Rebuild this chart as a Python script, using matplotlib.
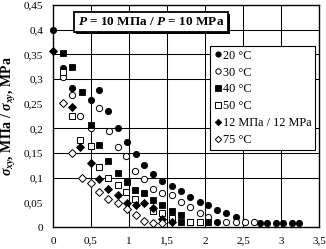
import matplotlib
matplotlib.use("Agg")
import matplotlib.pyplot as plt
from matplotlib.ticker import FuncFormatter
import matplotlib.patheffects as pe

plt.rcParams['font.family'] = ['Liberation Serif', 'DejaVu Serif']
plt.rcParams['mathtext.fontset'] = 'custom'
plt.rcParams['mathtext.rm'] = 'Liberation Serif:bold'
plt.rcParams['mathtext.it'] = 'Liberation Serif:italic:bold'
plt.rcParams['mathtext.bf'] = 'Liberation Serif:bold'

# ---- data ----
x20 = [0, 0.13, 0.245, 0.50, 0.61, 0.73, 0.85, 0.97, 1.09, 1.20, 1.32, 1.44, 1.56, 1.68, 1.80, 1.93,
       2.04, 2.16, 2.28, 2.41, 2.16, 2.72, 2.82, 2.93, 3.03, 3.14, 3.24]
y20 = [0.40, 0.322, 0.282, 0.258, 0.278, 0.236, 0.200, 0.173, 0.147, 0.126, 0.107, 0.094, 0.083, 0.072,
       0.061, 0.051, 0.045, 0.035, 0.028, 0.021, 0.010, 0.009, 0.009, 0.009, 0.009, 0.009, 0.009]

x30 = [0.13, 0.245, 0.36, 0.50, 0.61, 0.74, 0.85, 0.96, 1.08, 1.20, 1.32, 1.44, 1.56, 1.68, 1.80, 1.93,
       2.04, 2.28, 2.41, 2.53, 2.64]
y30 = [0.305, 0.268, 0.225, 0.200, 0.241, 0.195, 0.162, 0.143, 0.114, 0.097, 0.078, 0.068, 0.065, 0.050,
       0.040, 0.029, 0.020, 0.010, 0.010, 0.010, 0.010]

x40 = [0.13, 0.25, 0.38, 0.50, 0.61, 0.73, 0.86, 0.97, 1.08, 1.20, 1.32, 1.44, 1.56, 1.68, 1.68, 1.80, 2.04]
y40 = [0.352, 0.324, 0.274, 0.207, 0.166, 0.134, 0.110, 0.092, 0.076, 0.068, 0.055, 0.045, 0.033, 0.024,
       0.010, 0.010, 0.010]

x50 = [0.13, 0.25, 0.36, 0.50, 0.61, 0.73, 0.85, 0.96, 1.08, 1.32, 1.44, 1.56, 1.80, 1.93]
y50 = [0.314, 0.225, 0.176, 0.164, 0.122, 0.099, 0.085, 0.070, 0.056, 0.033, 0.029, 0.018, 0.010, 0.010]

x12 = [0, 0.25, 0.36, 0.50, 0.61, 0.73, 0.85, 0.97, 1.09, 1.20, 1.32, 1.44, 1.56]
y12 = [0.356, 0.243, 0.163, 0.130, 0.097, 0.078, 0.065, 0.049, 0.045, 0.048, 0.038, 0.016, 0.010]

x75 = [0.13, 0.25, 0.38, 0.50, 0.61, 0.73, 0.85, 0.97, 1.09, 1.20, 1.32, 1.44]
y75 = [0.251, 0.149, 0.099, 0.090, 0.070, 0.056, 0.049, 0.036, 0.024, 0.012, 0.009, 0.009]

labels = ['20 °C', '30 °C', '40 °C', '50 °C', '12 МПа / 12 MPa', '75 °C']
x_ticks = [0, 0.5, 1, 1.5, 2, 2.5, 3, 3.5]
y_ticks = [0, 0.05, 0.1, 0.15, 0.2, 0.25, 0.3, 0.35, 0.4, 0.45]
grid_y = [0.1, 0.15, 0.2, 0.3, 0.35, 0.4]
grid_x = [0.5, 1, 1.5, 2, 2.5, 3]

fig = plt.figure(figsize=(3.26, 2.49), dpi=100)
ax = fig.add_axes([53/326, 1-227/249, (319-53)/326, (227-5)/249])

for v in grid_y:
    ax.axhline(v, color='black', lw=0.75, zorder=1)
for v in grid_x:
    ax.axvline(v, color='black', lw=0.75, zorder=1)

ms = 4.5
ax.plot(x20, y20, 'o', ms=ms, mfc='black', mec='black', mew=0.6, ls='none', label=labels[0], zorder=3, clip_on=False)
ax.plot(x30, y30, 'o', ms=ms, mfc='white', mec='black', mew=0.7, ls='none', label=labels[1], zorder=3, clip_on=False)
ax.plot(x40, y40, 's', ms=ms, mfc='black', mec='black', mew=0.6, ls='none', label=labels[2], zorder=3, clip_on=False)
ax.plot(x50, y50, 's', ms=ms, mfc='white', mec='black', mew=0.7, ls='none', label=labels[3], zorder=3, clip_on=False)
ax.plot(x12, y12, 'D', ms=ms*0.85, mfc='black', mec='black', mew=0.6, ls='none', label=labels[4], zorder=3, clip_on=False)
ax.plot(x75, y75, 'D', ms=ms*0.85, mfc='white', mec='black', mew=0.7, ls='none', label=labels[5], zorder=3, clip_on=False)

ax.set_xlim(0, 3.5)
ax.set_ylim(0, 0.45)
ax.set_xticks(x_ticks)
ax.set_yticks(y_ticks)
fmt = FuncFormatter(lambda v, p: ('%g' % v).replace('.', ','))
ax.xaxis.set_major_formatter(fmt)
ax.yaxis.set_major_formatter(fmt)
ax.tick_params(length=0, labelsize=8, pad=7)
for s in ax.spines.values():
    s.set_linewidth(1.0)

ax.set_ylabel(r'$\sigma_{xy}$, МПа / $\sigma_{xy}$, MPa', fontsize=10, fontweight='bold', labelpad=4)

leg = ax.legend(loc='upper right', bbox_to_anchor=((315-53)/266, 1 - 41/222), fontsize=8.8,
                frameon=True, fancybox=False, edgecolor='black', framealpha=1,
                handletextpad=0.15, handlelength=0.55, labelspacing=0.4, borderpad=0.3,
                borderaxespad=0, markerscale=0.85)
leg.get_frame().set_linewidth(0.8)
leg.set_zorder(5)

t = ax.text((151-53)/266, 1 - (22-5)/222, r'$P$ = 10 МПа / $P$ = 10 MPa', transform=ax.transAxes,
            ha='center', va='center', fontsize=9.5, fontweight='bold', zorder=6,
            bbox=dict(boxstyle='square,pad=0.32', fc='white', ec='black', lw=1.3))
t.get_bbox_patch().set_path_effects([pe.SimplePatchShadow(offset=(1.5, -1.5), shadow_rgbFace='black', alpha=1),
                                     pe.Normal()])

fig.savefig('out.png', dpi=100)
